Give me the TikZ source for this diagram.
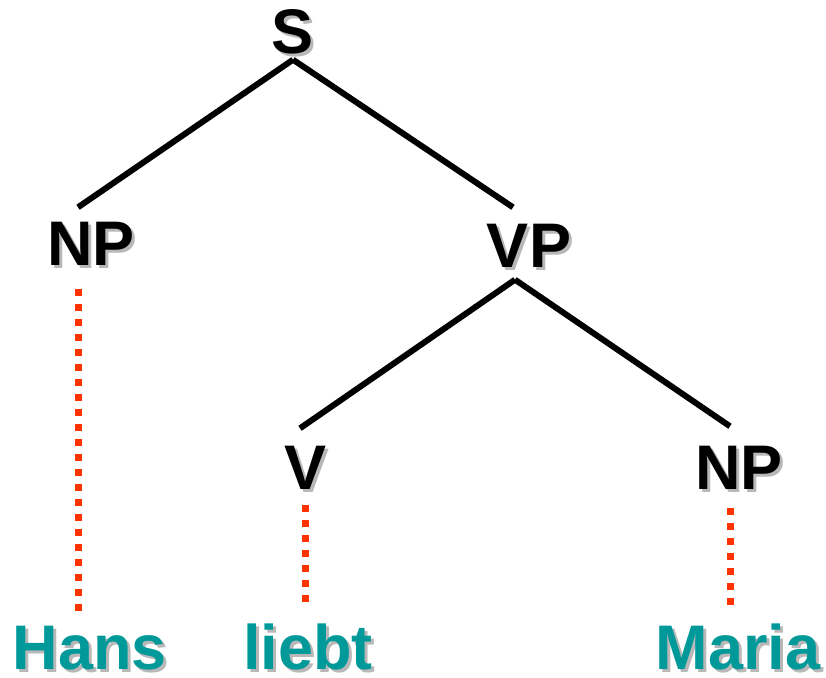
\documentclass[tikz,border=0pt]{standalone}
\usepackage{fontspec}
\setmainfont{Liberation Sans}
\definecolor{teal}{HTML}{009999}
\definecolor{dotred}{HTML}{FF3300}
\definecolor{shadowgray}{HTML}{B8B8B8}
\newcommand\shd[1]{\makebox[0pt][l]{\hspace{3pt}\raisebox{-3pt}{\textcolor{shadowgray}{#1}}}#1}
\begin{document}
\begin{tikzpicture}[x=1pt,y=-1pt,
  lbl/.style={inner sep=0pt, text height=45pt, text depth=0pt,
    font=\fontsize{63}{63}\selectfont\bfseries},
  cat/.style={lbl, text=black},
  word/.style={lbl, text=teal},
  branch/.style={line width=6pt, black},
  leaf/.style={line width=7pt, dotred, dash pattern=on 7pt off 8pt}]
\useasboundingbox (0,0) rectangle (826,677);
\node[cat] (S) at (293,31) {\shd{S}};
\node[cat] (NPa) at (91,243) {\shd{NP}};
\node[cat] (VP) at (529,245) {\shd{VP}};
\node[cat] (V) at (306,467) {\shd{V}};
\node[cat] (NPb) at (739,467) {\shd{NP}};
\node[word] (Hans) at (90,647) {\shd{Hans}};
\node[word] (liebt) at (308,647) {\shd{liebt}};
\node[word] (Maria) at (738,647) {\shd{Maria}};
\draw[branch] ([yshift=-6pt]S.south) -- ([xshift=-13pt,yshift=13pt]NPa.north);
\draw[branch] ([yshift=-6pt]S.south) -- ([xshift=-16pt,yshift=15pt]VP.north);
\draw[branch] ([xshift=-14pt,yshift=-12pt]VP.south) -- ([xshift=-6pt,yshift=16pt]V.north);
\draw[branch] ([xshift=-14pt,yshift=-12pt]VP.south) -- ([xshift=-9pt,yshift=18pt]NPb.north);
\draw[leaf] ([xshift=-13pt,yshift=-23pt]NPa.south) -- ([xshift=-12pt,yshift=13pt]Hans.north);
\draw[leaf] ([xshift=-1pt,yshift=-15pt]V.south) -- ([xshift=-3pt,yshift=21pt]liebt.north);
\draw[leaf] ([xshift=-9pt,yshift=-18pt]NPb.south) -- ([xshift=-8pt,yshift=19pt]Maria.north);
\end{tikzpicture}
\end{document}
